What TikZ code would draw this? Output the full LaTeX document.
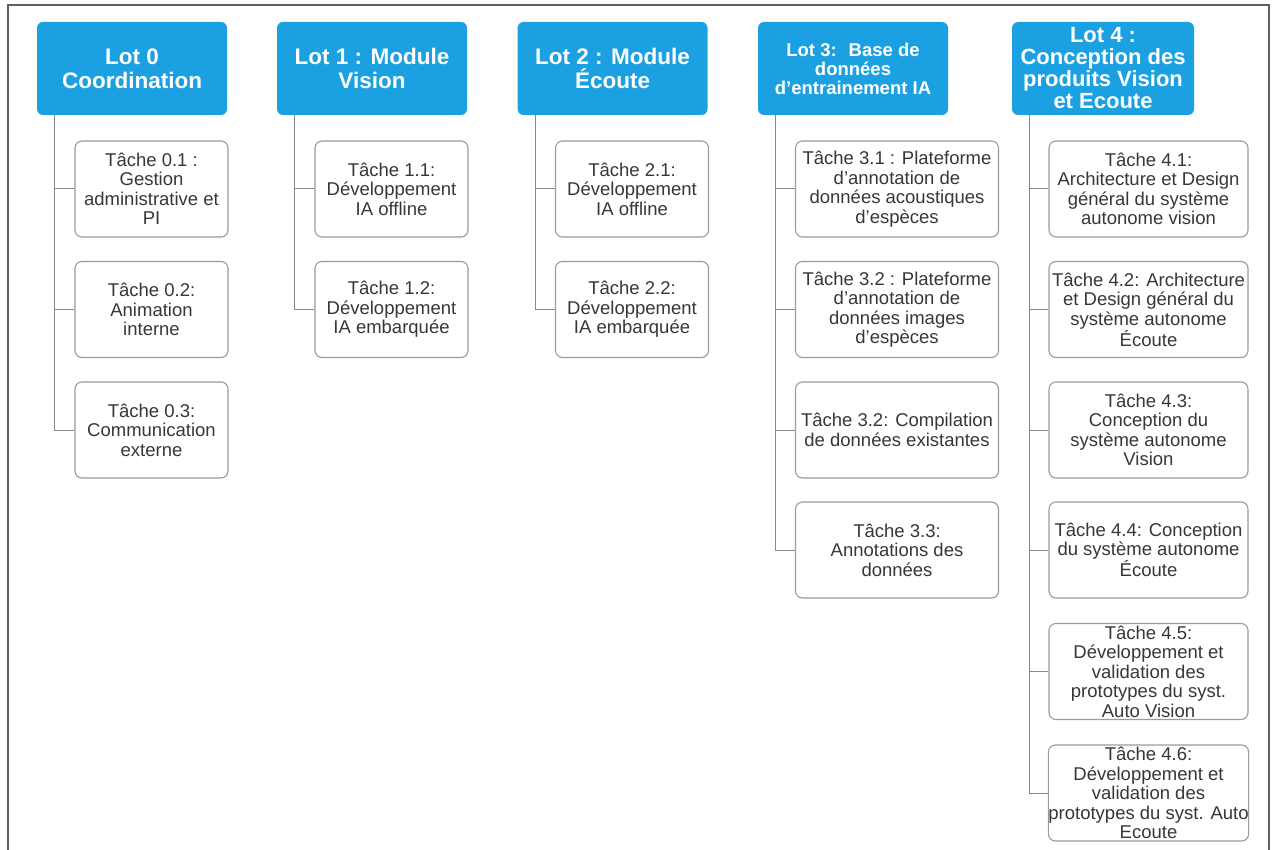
\documentclass[tikz,border=0pt]{standalone}
\usepackage{fontspec}
\setmainfont{Liberation Sans}
\definecolor{lotblue}{RGB}{27,161,226}
\definecolor{taskdraw}{RGB}{150,156,160}
\definecolor{tasktext}{RGB}{55,55,55}
\definecolor{linkgray}{RGB}{130,136,140}
\tikzset{
        lot/.style={rounded corners=6pt, fill=lotblue, text=white, align=center, inner sep=0pt,
          minimum width=190pt, minimum height=93pt, font=\fontsize{22.5}{24}\selectfont\bfseries},
        lotsmall/.style={lot, font=\fontsize{18.5}{19}\selectfont\bfseries},
        lotwide/.style={lot, minimum width=182pt, font=\fontsize{22}{22}\selectfont\bfseries},
        task/.style={rounded corners=7pt, draw=taskdraw, line width=1.1pt, fill=white, text=tasktext,
          align=center, inner sep=0pt, minimum width=153pt, minimum height=96pt,
          font=\fontsize{18.5}{19.5}\selectfont},
        taskwide/.style={task, minimum width=203pt},
        link/.style={draw=linkgray, line width=1pt},
        frame/.style={draw=gray!75!black, line width=2pt}
          }
\begin{document}
\begin{tikzpicture}[x=1pt, y=-1pt]
        \useasboundingbox (0,0) rectangle (1274,850);
        \draw[frame] (8,850) -- (8,5) -- (1269,5) -- (1269,850);

        \node[lot] (L0) at (132,68.5) {Lot 0\\Coordination};
        \node[lot] (L1) at (372,68.5) {Lot 1 : Module\\Vision};
        \node[lot] (L2) at (612.5,68.5) {Lot 2 : Module\\Écoute};
        \node[lotsmall] (L3) at (853,68.5) {Lot 3:~ Base de\\données\\d’entrainement IA};
        \node[lotwide] (L4) at (1103,68.5) {Lot 4 :\\Conception des\\produits Vision\\et Ecoute};

        \node[task] (T01) at (151.5,189) {Tâche 0.1 :\\Gestion\\administrative et\\PI};
        \node[task] (T02) at (151.5,309.5) {Tâche 0.2:\\Animation\\interne};
        \node[task] (T03) at (151.5,430) {Tâche 0.3:\\Communication\\externe};

        \node[task] (T11) at (391.5,189) {Tâche 1.1:\\Développement\\IA offline};
        \node[task] (T12) at (391.5,309.5) {Tâche 1.2:\\Développement\\IA embarquée};

        \node[task] (T21) at (632,189) {Tâche 2.1:\\Développement\\IA offline};
        \node[task] (T22) at (632,309.5) {Tâche 2.2:\\Développement\\IA embarquée};

        \node[taskwide] (T31) at (897,189) {Tâche 3.1 : Plateforme\\d’annotation de\\données acoustiques\\d’espèces};
        \node[taskwide] (T32) at (897,309.5) {Tâche 3.2 : Plateforme\\d’annotation de\\données images\\d’espèces};
        \node[taskwide] (T33) at (897,430) {Tâche 3.2: Compilation\\de données existantes};
        \node[taskwide] (T34) at (897,550) {Tâche 3.3:\\Annotations des\\données};

        \node[taskwide, minimum width=199pt] (T41) at (1148.5,189) {Tâche 4.1:\\Architecture et Design\\général du système\\autonome vision};
        \node[taskwide, minimum width=199pt] (T42) at (1148.5,309.5) {Tâche 4.2: Architecture\\et Design général du\\système autonome\\Écoute};
        \node[taskwide, minimum width=199pt] (T43) at (1148.5,430) {Tâche 4.3:\\Conception du\\système autonome\\Vision};
        \node[taskwide, minimum width=199pt] (T44) at (1148.5,550) {Tâche 4.4: Conception\\du système autonome\\Écoute};
        \node[taskwide, minimum width=199pt] (T45) at (1148.5,671.5) {Tâche 4.5:\\Développement et\\validation des\\prototypes du syst.\\Auto Vision};
        \node[taskwide, minimum width=199pt] (T46) at (1148.5,793) {Tâche 4.6:\\Développement et\\validation des\\prototypes du syst. Auto\\Ecoute};

        \foreach \lot/\tasks in {L0/{T01,T02,T03}, L1/{T11,T12}, L2/{T21,T22},
                                 L3/{T31,T32,T33,T34}, L4/{T41,T42,T43,T44,T45,T46}}
          \foreach \t in \tasks
            \draw[link] ([xshift=18pt]\lot.south west) |- (\t.west);
      \end{tikzpicture}
\end{document}
